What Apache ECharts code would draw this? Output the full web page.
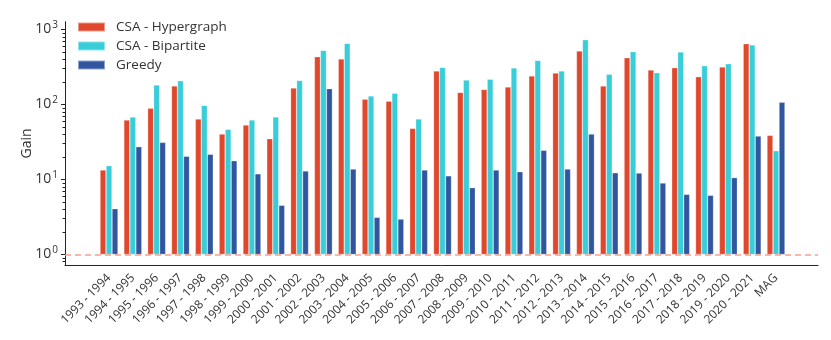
<!DOCTYPE html>
<html>
<head>
<meta charset="utf-8">
<script src="https://cdn.jsdelivr.net/npm/echarts@6/dist/echarts.min.js"></script>
<style>
  html, body { margin: 0; padding: 0; background: #fff; }
  #chart { width: 831px; height: 340px; }
</style>
</head>
<body>
<div id="chart"></div>
<script>
// periods on the x axis
var periods = [
  "1993 - 1994", "1994 - 1995", "1995 - 1996", "1996 - 1997", "1997 - 1998",
  "1998 - 1999", "1999 - 2000", "2000 - 2001", "2001 - 2002", "2002 - 2003",
  "2003 - 2004", "2004 - 2005", "2005 - 2006", "2006 - 2007", "2007 - 2008",
  "2008 - 2009", "2009 - 2010", "2010 - 2011", "2011 - 2012", "2012 - 2013",
  "2013 - 2014", "2014 - 2015", "2015 - 2016", "2016 - 2017", "2017 - 2018",
  "2018 - 2019", "2019 - 2020", "2020 - 2021", "MAG"
];
var hypergraph = [13.4, 62, 89, 177, 64, 40.4, 53.3, 35, 166, 434,
  404, 118, 111, 48.1, 280, 145, 159, 171, 240, 263,
  517, 177, 421, 288, 310, 235, 316, 647, 38.8];
var bipartite = [15.3, 68, 182, 208, 97.5, 46.7, 62, 68, 210, 527,
  654, 130, 142, 64, 313, 212, 217, 307, 388, 280,
  731, 253, 506, 266, 501, 329, 350, 621, 24.2];
var greedy = [4.08, 27.4, 31.3, 20.4, 21.7, 17.8, 11.9, 4.53, 13.0, 163,
  13.8, 3.13, 2.97, 13.4, 11.2, 7.78, 13.4, 12.7, 24.5, 13.8,
  40.4, 12.3, 12.2, 8.98, 6.34, 6.15, 10.6, 38, 107];
var majorTicks = [1, 10, 100, 1000];
var minorTicks = [0.8, 0.9, 2, 3, 4, 5, 6, 7, 8, 9, 20, 30, 40, 50, 60, 70, 80, 90,
  200, 300, 400, 500, 600, 700, 800, 900];
var yMin = 0.724, yMax = 1271;

var chart = echarts.init(document.getElementById("chart"));
var textColor = "#333";
var font = "Open Sans";

function barSeries(name, data, color) {
  return {
    name: name,
    type: "bar",
    xAxisIndex: 0,
    yAxisIndex: 0,
    data: data,
    barWidth: 6,
    barGap: "0%",
    itemStyle: { color: color, borderColor: "rgba(255,255,255,0.45)", borderWidth: 0.6 },
    animation: false
  };
}

chart.setOption({
  backgroundColor: "#fff",
  textStyle: { fontFamily: font },
  legend: {
    left: 72,
    top: 15,
    orient: "vertical",
    icon: "rect",
    itemWidth: 27,
    itemHeight: 9,
    itemGap: 5,
    textStyle: { fontSize: 13.5, color: textColor, fontFamily: font, padding: [0, 0, 0, 6] },
    data: ["CSA - Hypergraph", "CSA - Bipartite", "Greedy"]
  },
  grid: [
    { left: 97.1, right: 43.1, top: 21.7, bottom: 75 },
    { left: 65, right: 13, top: 21.7, bottom: 75 }
  ],
  xAxis: [
    {
      type: "category",
      gridIndex: 0,
      data: periods,
      axisLine: { show: false },
      axisTick: { show: false },
      axisLabel: {
        rotate: 45,
        interval: 0,
        margin: 11,
        fontSize: 12,
        color: textColor,
        fontFamily: font
      }
    },
    {
      type: "value",
      gridIndex: 1,
      min: 0,
      max: 1,
      axisLine: { show: true, lineStyle: { color: "#222", width: 1 } },
      axisTick: { show: false },
      axisLabel: { show: false },
      splitLine: { show: false }
    }
  ],
  yAxis: [
    {
      type: "log",
      gridIndex: 0,
      min: yMin,
      max: yMax,
      axisLine: { show: false },
      axisTick: { show: false },
      axisLabel: { show: false },
      splitLine: { show: false }
    },
    {
      type: "log",
      gridIndex: 1,
      position: "left",
      min: yMin,
      max: yMax,
      name: "Gain",
      nameLocation: "middle",
      nameGap: 38,
      nameMoveOverlap: false,
      nameTextStyle: { fontSize: 14, color: textColor, fontFamily: font, verticalAlign: "middle" },
      axisLine: { show: true, lineStyle: { color: "#222", width: 1 } },
      axisTick: { show: true, length: 4, customValues: majorTicks, lineStyle: { color: "#222" } },
      axisLabel: {
        customValues: majorTicks,
        margin: 7,
        formatter: function (v) {
          return "10{sup|" + Math.round(Math.log10(v)) + "}";
        },
        rich: {
          sup: { fontSize: 10, verticalAlign: "bottom", padding: [0, 0, 8, 1], color: textColor, fontFamily: font }
        },
        fontSize: 14,
        color: textColor,
        fontFamily: font
      },
      splitLine: { show: false }
    },
    {
      type: "log",
      gridIndex: 1,
      position: "left",
      min: yMin,
      max: yMax,
      axisLine: { show: false },
      axisTick: { show: true, length: 2.5, customValues: minorTicks, lineStyle: { color: "#222" } },
      axisLabel: { show: false },
      splitLine: { show: false }
    }
  ],
  series: [
    barSeries("CSA - Hypergraph", hypergraph, "#e0482d"),
    barSeries("CSA - Bipartite", bipartite, "#37cdd9"),
    barSeries("Greedy", greedy, "#32559f"),
    {
      type: "line",
      xAxisIndex: 1,
      yAxisIndex: 1,
      data: [],
      silent: true,
      markLine: {
        symbol: "none",
        silent: true,
        label: { show: false },
        lineStyle: { color: "#f7a08c", type: [6, 4], width: 1.6 },
        data: [{ yAxis: 1 }]
      },
      animation: false
    }
  ]
});
</script>
</body>
</html>
